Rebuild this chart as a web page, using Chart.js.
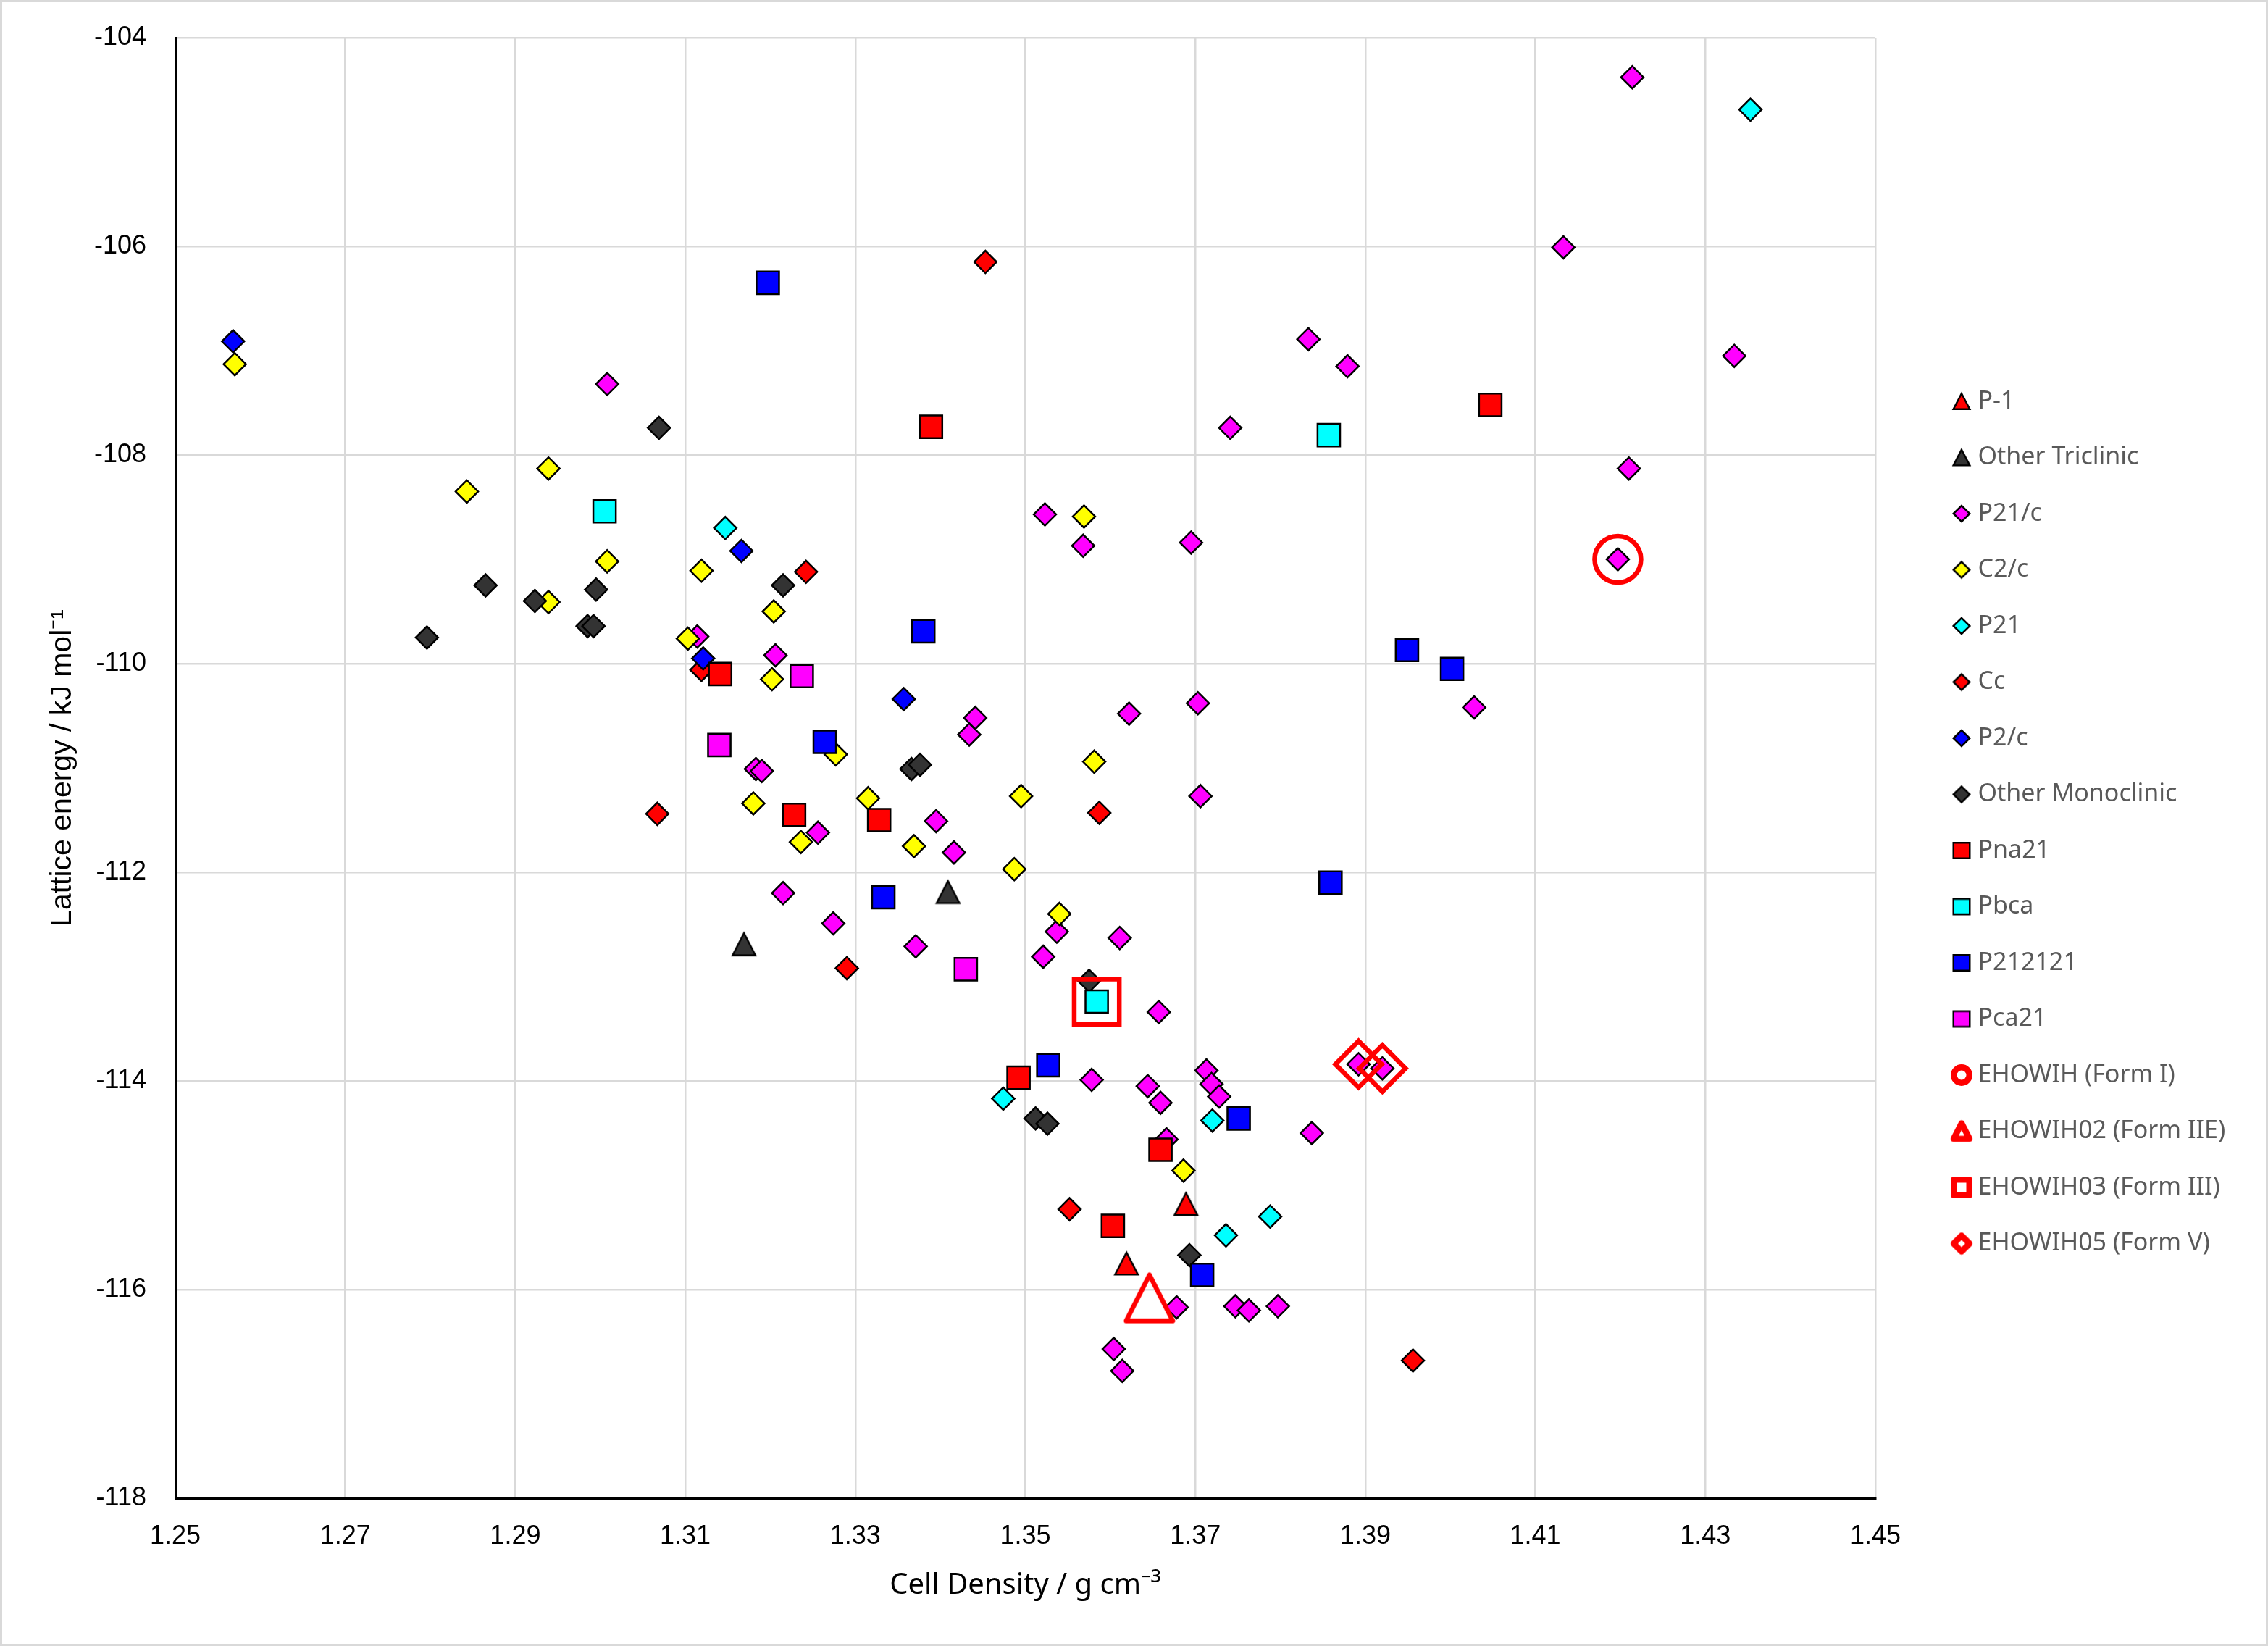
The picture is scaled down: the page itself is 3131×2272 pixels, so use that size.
<!DOCTYPE html>
<html>
<head>
<meta charset="utf-8">
<script src="https://cdn.jsdelivr.net/npm/chart.js@4.4.1/dist/chart.umd.min.js"></script>
<style>
html,body{margin:0;padding:0;background:#fff;}
canvas{display:block;}
</style>
</head>
<body>
<canvas id="c" width="3131" height="2272"></canvas>
<script>
// ---------------- DATA ----------------
const seriesNames = ['P-1','Other Triclinic','P21/c','C2/c','P21','Cc','P2/c','Other Monoclinic',
  'Pna21','Pbca','P212121','Pca21','EHOWIH (Form I)','EHOWIH02 (Form IIE)','EHOWIH03 (Form III)','EHOWIH05 (Form V)'];

const xTickValues = [1.25,1.27,1.29,1.31,1.33,1.35,1.37,1.39,1.41,1.43,1.45];
const xTickLabels = ['1.25','1.27','1.29','1.31','1.33','1.35','1.37','1.39','1.41','1.43','1.45'];
const yTickValues = [-118,-116,-114,-112,-110,-108,-106,-104];
const yTickLabels = ['-118','-116','-114','-112','-110','-108','-106','-104'];

const p1Density = [1.3689, 1.3619];
const p1Energy  = [-115.18, -115.75];

const otherTriDensity = [1.3169, 1.3409];
const otherTriEnergy  = [-112.69, -112.19];

const p21cDensity = [1.3008,1.3114,1.3206,1.3434,1.3441,1.3622,1.3703,1.3523,1.3568,1.3695,1.3741,1.4214,
  1.4133,1.3833,1.3879,1.4334,1.4210,1.4197,1.4028,1.3183,1.3190,1.3256,1.3395,1.3416,1.3706,1.3215,1.3274,
  1.3371,1.3537,1.3521,1.3611,1.3657,1.3578,1.3644,1.3659,1.3713,1.3719,1.3728,1.3666,1.3678,1.3747,1.3763,
  1.3797,1.3604,1.3614,1.3892,1.3920,1.3837];
const p21cEnergy = [-107.32,-109.74,-109.92,-110.68,-110.52,-110.48,-110.38,-108.57,-108.87,-108.84,-107.74,-104.38,
  -106.01,-106.89,-107.15,-107.05,-108.13,-109.00,-110.42,-111.01,-111.03,-111.62,-111.51,-111.81,-111.27,-112.20,-112.49,
  -112.71,-112.57,-112.81,-112.63,-113.34,-113.99,-114.05,-114.21,-113.90,-114.03,-114.15,-114.56,-116.17,-116.16,-116.20,
  -116.16,-116.57,-116.78,-113.84,-113.88,-114.50];

const c2cDensity = [1.2570,1.2939,1.2843,1.3008,1.3119,1.2939,1.3103,1.3204,1.3202,1.3277,1.3180,1.3236,
  1.3315,1.3369,1.3581,1.3495,1.3487,1.3540,1.3569,1.3686];
const c2cEnergy = [-107.13,-108.13,-108.35,-109.02,-109.11,-109.41,-109.76,-109.50,-110.15,-110.87,-111.34,-111.71,
  -111.29,-111.75,-110.94,-111.27,-111.97,-112.40,-108.59,-114.86];

const p21Density = [1.3147,1.4353,1.3474,1.3720,1.3788,1.3736];
const p21Energy  = [-108.70,-104.69,-114.17,-114.38,-115.30,-115.48];

const ccDensity = [1.3119,1.3453,1.3242,1.3067,1.3587,1.3290,1.3552,1.3956];
const ccEnergy  = [-110.06,-106.15,-109.12,-111.44,-111.43,-112.92,-115.23,-116.68];

const p2cDensity = [1.2568,1.3166,1.3121,1.3357];
const p2cEnergy  = [-106.91,-108.92,-109.95,-110.34];

const otherMonoDensity = [1.3069,1.2865,1.2995,1.2923,1.2796,1.2985,1.2992,1.3215,1.3366,1.3376,1.3575,1.3512,1.3526,1.3693];
const otherMonoEnergy  = [-107.74,-109.25,-109.29,-109.40,-109.75,-109.64,-109.64,-109.25,-111.01,-110.97,-113.04,-114.36,-114.41,-115.67];

const pna21Density = [1.3141,1.3389,1.4047,1.3228,1.3328,1.3492,1.3659,1.3603];
const pna21Energy  = [-110.10,-107.73,-107.52,-111.45,-111.50,-113.97,-114.66,-115.39];

const pbcaDensity = [1.3005,1.3857,1.3584];
const pbcaEnergy  = [-108.54,-107.81,-113.24];

const p212121Density = [1.3197,1.3380,1.3264,1.3949,1.4002,1.3333,1.3859,1.3527,1.3751,1.3708];
const p212121Energy  = [-106.35,-109.69,-110.75,-109.87,-110.05,-112.24,-112.10,-113.85,-114.36,-115.86];

const pca21Density = [1.3140,1.3237,1.3430];
const pca21Energy  = [-110.78,-110.12,-112.93];

const formIDensity = [1.4197];
const formIEnergy  = [-109.00];
const formIIEDensity = [1.3646];
const formIIEEnergy  = [-116.08];
const formIIIDensity = [1.3584];
const formIIIEnergy  = [-113.24];
const formVDensity = [1.3892,1.3920];
const formVEnergy  = [-113.84,-113.88];

const seriesDensity = [p1Density,otherTriDensity,p21cDensity,c2cDensity,p21Density,ccDensity,p2cDensity,otherMonoDensity,
  pna21Density,pbcaDensity,p212121Density,pca21Density,formIDensity,formIIEDensity,formIIIDensity,formVDensity];
const seriesEnergy = [p1Energy,otherTriEnergy,p21cEnergy,c2cEnergy,p21Energy,ccEnergy,p2cEnergy,otherMonoEnergy,
  pna21Energy,pbcaEnergy,p212121Energy,pca21Energy,formIEnergy,formIIEEnergy,formIIIEnergy,formVEnergy];

// ---------------- STYLES ----------------
const RED='#FF0000', DARK='#333333', MAG='#FF00FF', YEL='#FFFF00', CYAN='#00FFFF', BLUE='#0000FF';
const seriesStyle = [
  {shape:'tri', fill:RED}, {shape:'tri', fill:DARK}, {shape:'dia', fill:MAG}, {shape:'dia', fill:YEL},
  {shape:'dia', fill:CYAN}, {shape:'dia', fill:RED}, {shape:'dia', fill:BLUE}, {shape:'dia', fill:DARK},
  {shape:'sq', fill:RED}, {shape:'sq', fill:CYAN}, {shape:'sq', fill:BLUE}, {shape:'sq', fill:MAG},
  {shape:'circle', open:true}, {shape:'tri', open:true}, {shape:'sq', open:true}, {shape:'dia', open:true}
];

function triMarker(w, h, fill, stroke, lw, join) {
  const pad = Math.ceil(lw) + 2;
  let cw = Math.ceil(w + 2*pad); if (cw % 2) cw++;
  let ch = Math.ceil(h + 2*pad); if (ch % 2) ch++;
  const c = document.createElement('canvas'); c.width = cw; c.height = ch;
  const g = c.getContext('2d');
  const cx = cw/2, cy = ch/2;
  g.beginPath();
  g.moveTo(cx, cy - h/2); g.lineTo(cx + w/2, cy + h/2); g.lineTo(cx - w/2, cy + h/2); g.closePath();
  if (fill) { g.fillStyle = fill; g.fill(); }
  g.lineJoin = join || 'miter'; g.lineWidth = lw; g.strokeStyle = stroke; g.stroke();
  return c;
}

const LEG_MARK_OFFSET = 35;
function legendMarker(st) {
  const c = document.createElement('canvas'); c.width = 150; c.height = 50;
  const g = c.getContext('2d');
  const cx = 75 + LEG_MARK_OFFSET, cy = 25;
  g.beginPath();
  if (!st.open) {
    if (st.shape === 'tri') { g.moveTo(cx, cy-10.75); g.lineTo(cx+11.25, cy+10.75); g.lineTo(cx-11.25, cy+10.75); g.closePath(); }
    else if (st.shape === 'dia') { g.moveTo(cx-11.25, cy); g.lineTo(cx, cy-11); g.lineTo(cx+11.25, cy); g.lineTo(cx, cy+11); g.closePath(); }
    else { g.rect(cx-11.25, cy-10.75, 22.5, 21.5); }
    g.fillStyle = st.fill; g.fill();
    g.lineJoin = 'miter'; g.lineWidth = 2.5; g.strokeStyle = '#000'; g.stroke();
  } else {
    if (st.shape === 'circle') { g.arc(cx, cy, 10.75, 0, Math.PI*2); }
    else if (st.shape === 'tri') { g.moveTo(cx, cy-11); g.lineTo(cx+11, cy+10.5); g.lineTo(cx-11, cy+10.5); g.closePath(); }
    else if (st.shape === 'dia') { g.moveTo(cx-11, cy); g.lineTo(cx, cy-11); g.lineTo(cx+11, cy); g.lineTo(cx, cy+11); g.closePath(); }
    else { g.rect(cx-10.75, cy-10.75, 21.5, 21.5); }
    g.lineJoin = 'round'; g.lineWidth = 8.5; g.strokeStyle = RED; g.stroke();
  }
  return c;
}

function pointsOf(xs, ys) { return xs.map((x, i) => ({x: x, y: ys[i]})); }

const datasets = seriesNames.map((name, i) => {
  const st = seriesStyle[i];
  const ds = {
    label: name,
    data: pointsOf(seriesDensity[i], seriesEnergy[i]),
    showLine: false,
    order: -i
  };
  if (!st.open) {
    ds.pointBackgroundColor = st.fill; ds.backgroundColor = st.fill;
    ds.pointBorderColor = '#000'; ds.borderColor = '#000';
    ds.pointBorderWidth = 2.5;
    if (st.shape === 'dia') { ds.pointStyle = 'rectRot'; ds.pointRadius = 15.5; }
    else if (st.shape === 'sq') { ds.pointStyle = 'rect'; ds.pointRadius = 22; }
    else { ds.pointStyle = triMarker(31.5, 30.5, st.fill, '#000', 2.5, 'miter'); ds.pointRadius = 16; }
  } else {
    ds.pointBackgroundColor = 'rgba(0,0,0,0)'; ds.backgroundColor = 'rgba(0,0,0,0)';
    ds.pointBorderColor = RED; ds.borderColor = RED;
    ds.pointBorderWidth = 6.5;
    if (st.shape === 'circle') { ds.pointStyle = 'circle'; ds.pointRadius = 32; }
    else if (st.shape === 'sq') { ds.pointStyle = 'rect'; ds.pointRadius = 44; }
    else if (st.shape === 'dia') { ds.pointStyle = 'rectRot'; ds.pointRadius = 32; }
    else { ds.pointStyle = triMarker(64.5, 63.5, null, RED, 6.5, 'round'); ds.pointRadius = 32; }
  }
  return ds;
});

const legendImages = seriesStyle.map(legendMarker);

// ---------------- LAYOUT ----------------
const W = 3131, H = 2272;
const PLOT_LEFT = 242, PLOT_TOP = 52, PLOT_RIGHT = 2589, PLOT_BOTTOM = 2068;
const LEG_FS = 34, LEG_PAD = 43.5, LEG_BOXW = 81;
const LEG_FAMILY = '"Noto Sans", sans-serif';
const PAD_BOTTOM = 53.5;
const mctx = document.createElement('canvas').getContext('2d');
mctx.font = LEG_FS + 'px ' + LEG_FAMILY;
const maxTextW = Math.max(...seriesNames.map(t => mctx.measureText(t).width));
const legendW = LEG_PAD + LEG_BOXW + LEG_FS/2 + maxTextW + 10;
const padRight = W - PLOT_RIGHT - legendW;
const xAxisH = H - PAD_BOTTOM - PLOT_BOTTOM;

const framePlugin = {
  id: 'frame',
  beforeDraw(chart) {
    const g = chart.ctx; g.save(); g.fillStyle = '#fff'; g.fillRect(0, 0, chart.width, chart.height); g.restore();
  },
  afterDraw(chart) {
    const g = chart.ctx; g.save(); g.strokeStyle = '#d9d9d9'; g.lineWidth = 3;
    g.strokeRect(1.5, 1.5, chart.width - 3, chart.height - 3); g.restore();
  }
};

new Chart(document.getElementById('c'), {
  type: 'scatter',
  data: { datasets: datasets },
  plugins: [framePlugin],
  options: {
    responsive: false,
    animation: false,
    events: [],
    devicePixelRatio: 1,
    layout: { padding: { top: PLOT_TOP, left: 0, right: padRight, bottom: PAD_BOTTOM } },
    plugins: {
      tooltip: { enabled: false },
      legend: {
        position: 'right',
        align: 'center',
        labels: {
          usePointStyle: true,
          pointStyleWidth: LEG_BOXW,
          padding: LEG_PAD,
          color: '#595959',
          font: { family: LEG_FAMILY, size: LEG_FS },
          generateLabels: () => seriesNames.map((name, i) => ({
            text: name,
            pointStyle: legendImages[i],
            fillStyle: 'rgba(0,0,0,0)',
            strokeStyle: 'rgba(0,0,0,0)',
            lineWidth: 0,
            hidden: false,
            fontColor: '#595959',
            datasetIndex: i
          }))
        }
      }
    },
    scales: {
      x: {
        type: 'linear',
        position: 'bottom',
        min: 1.25, max: 1.45,
        afterFit: s => { s.height = xAxisH; s.paddingLeft = 0; s.paddingRight = 0; },
        afterBuildTicks: s => { s.ticks = xTickValues.map(v => ({value: v})); },
        grid: { color: '#d9d9d9', lineWidth: 2.5, drawTicks: false },
        border: { display: true, color: '#000000', width: 3 },
        ticks: {
          autoSkip: false, maxRotation: 0, padding: 31,
          color: '#000000',
          font: { family: '"Liberation Sans", Arial, sans-serif', size: 36 },
          callback: (v, i) => xTickLabels[i]
        },
        title: {
          display: true,
          text: 'Cell Density / g cm\u207B\u00B3',
          color: '#000000',
          font: { family: '"Noto Sans", sans-serif', size: 40 },
          padding: { top: 0, bottom: 6 }
        }
      },
      y: {
        type: 'linear',
        min: -118, max: -104,
        afterFit: s => { s.width = PLOT_LEFT; s.paddingTop = 0; s.paddingBottom = 0; },
        afterBuildTicks: s => { s.ticks = yTickValues.map(v => ({value: v})); },
        grid: { color: '#d9d9d9', lineWidth: 2.5, drawTicks: false },
        border: { display: true, color: '#000000', width: 3 },
        ticks: {
          autoSkip: false, padding: 40,
          color: '#000000',
          font: { family: '"Liberation Sans", Arial, sans-serif', size: 36 },
          callback: (v, i) => yTickLabels[i]
        },
        title: {
          display: true,
          text: 'Lattice energy / kJ mol\u207B\u00B9',
          color: '#000000',
          font: { family: '"Liberation Sans", Arial, sans-serif', size: 41 },
          padding: { top: 62, bottom: 0 }
        }
      }
    }
  }
});
</script>
</body>
</html>
